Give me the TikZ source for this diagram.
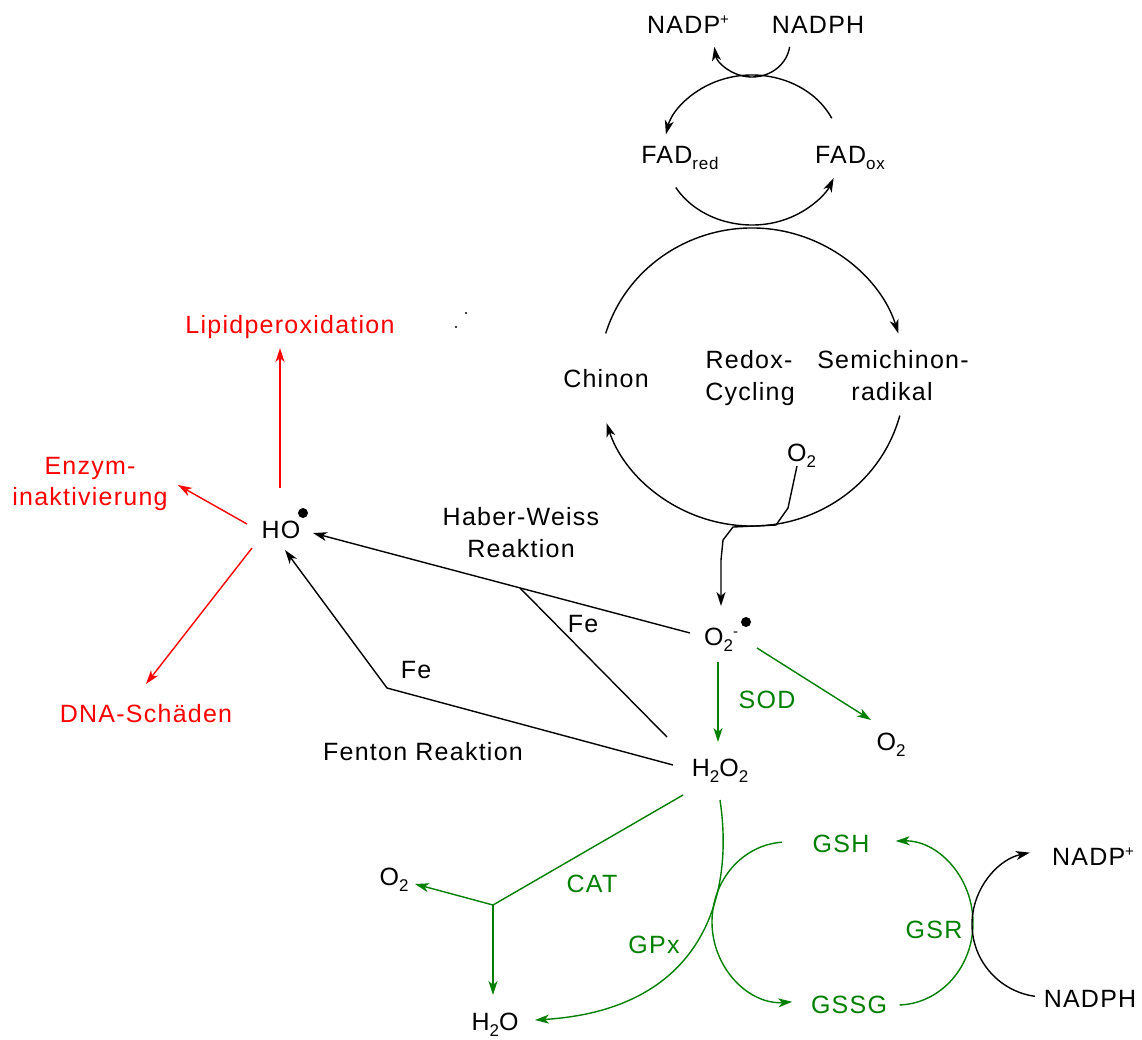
\documentclass[tikz,border=0pt]{standalone}
\usepackage{fontspec}
\setmainfont{Liberation Sans}[LetterSpace=5]
\usetikzlibrary{arrows.meta,calc}
\definecolor{gr}{RGB}{0,128,0}
\definecolor{rd}{RGB}{255,0,0}
\newcommand\mysub[1]{\raisebox{-6pt}{\fontsize{17}{17}\selectfont #1}}
\newcommand\mysup[1]{\raisebox{9pt}{\fontsize{15}{15}\selectfont #1}}
\begin{document}
\begin{tikzpicture}[x=1pt,y=-1pt,
  lbl/.style={anchor=base,inner sep=0pt,font=\fontsize{25}{31}\selectfont},
  lblw/.style={anchor=base west,inner sep=0pt,font=\fontsize{25}{31}\selectfont},
  tip/.style={-{Stealth[length=14pt,width=9pt,inset=4pt]}},
  ln/.style={line width=1.4pt},
  gln/.style={ln,draw=gr},
  rln/.style={ln,draw=rd}]
\useasboundingbox[fill=white] (0,0) rectangle (1142,1039);

% ---------- labels ----------
\node[lbl] (nadpT) at (688,33) {NADP\mysup{+}};
\node[lbl] (nadphT) at (818,33) {NADPH};
\node[lbl] (fadred) at (680,163) {FAD\mysub{red}};
\node[lbl] (fadox) at (850,163) {FAD\mysub{ox}};
\node[lbl] (chinon) at (606,387) {Chinon};
\node[lbl] (redox1) at (749,368) {Redox-};
\node[lbl] (redox2) at (750,400) {Cycling};
\node[lbl] (semi1) at (893,368) {Semichinon-};
\node[lbl] (semi2) at (892,400) {radikal};
\node[lblw] (o2in) at (787,461) {O\mysub{2}};
\node[lbl,text=rd] (lipid) at (290,333) {Lipidperoxidation};
\node[lbl,text=rd] (enz1) at (90,474) {Enzym-};
\node[lbl,text=rd] (enz2) at (90,505) {inaktivierung};
\node[lbl,text=rd] (dna) at (146,722) {DNA-Schäden};
\node[lbl] (ho) at (281,538) {HO};
\node[lbl] (hw1) at (521,525) {Haber-Weiss};
\node[lbl] (hw2) at (521,557) {Reaktion};
\node[lbl] (fe1) at (583,632) {Fe};
\node[lbl] (fe2) at (416,678) {Fe};
\node[lbl] (fenton) at (423,760) {Fenton Reaktion};
\node[lblw] (o2m) at (704,645) {O\mysub{2}\mysup{-}};
\node[lbl,text=gr] (sod) at (767,708) {SOD};
\node[lbl] (o2r) at (891,750) {O\mysub{2}};
\node[lbl] (h2o2) at (720,776) {H\mysub{2}O\mysub{2}};
\node[lbl] (o2l) at (394,885) {O\mysub{2}};
\node[lbl,text=gr] (cat) at (592,892) {CAT};
\node[lbl,text=gr] (gpx) at (654,953) {GPx};
\node[lbl] (h2o) at (495,1030) {H\mysub{2}O};
\node[lbl,text=gr] (gsh) at (841,852) {GSH};
\node[lbl,text=gr] (gssg) at (849,1013) {GSSG};
\node[lbl,text=gr] (gsr) at (934,938) {GSR};
\node[lbl] (nadpB) at (1093,865) {NADP\mysup{+}};
\node[lbl] (nadphB) at (1090,1007) {NADPH};

% radical dots and stray dots
\fill (746,622) circle[radius=5];
\fill (303,513) circle[radius=5];
\fill (466,313) circle[radius=1.2];
\fill (456,327) circle[radius=1.2];

% ---------- coordinates ----------
\coordinate (cSmall) at (752,42);
\coordinate (cFAD) at (752,150);
\coordinate (cBig) at (752,377);
\coordinate (cGl) at (787,922);
\coordinate (cGr) at (897,923);
\coordinate (cN) at (1045,924);

% ---------- black cycles ----------
\draw[ln,tip] (cSmall) ++(8:38 and 35) arc[start angle=8,end angle=172,x radius=38,y radius=35];
\draw[ln,tip] (cFAD) ++(-25:88 and 75) arc[start angle=-25,end angle=-168,x radius=88,y radius=75];
\draw[ln,tip] (cFAD) ++(150:88 and 75) arc[start angle=150,end angle=22,x radius=88,y radius=75];
\draw[ln,tip] (cBig) ++(-163:153 and 149) arc[start angle=-163,end angle=-17,x radius=153,y radius=149];
\draw[ln,tip] (cBig) ++(15:153 and 149) arc[start angle=15,end angle=162,x radius=153,y radius=149];

% O2 -> O2-
\coordinate (o2a) at (797,466);
\coordinate (o2b) at (721,606);
\draw[ln,tip] (o2a) -- (788,508) -- (776,525) -- (733,527) -- (723,540) -- (721,560) -- (o2b);

% ---------- red arrows ----------
\coordinate (hoU) at (280,488);
\coordinate (hoL) at (247,524);
\coordinate (hoD) at (252,548);
\coordinate (lipA) at (280,348);
\coordinate (enzA) at (178,485);
\coordinate (dnaA) at (146,684);
\draw[rln,tip] (hoU) -- (lipA);
\draw[rln,tip] (hoL) -- (enzA);
\draw[rln,tip] (hoD) -- (dnaA);

% ---------- Haber-Weiss / Fenton ----------
\coordinate (hwS) at (690,633);
\coordinate (hwE) at (313,533);
\coordinate (hwJ) at (520,588);
\coordinate (h2o2a) at (667,737);
\coordinate (h2o2b) at (673,765);
\coordinate (fK) at (387,688);
\coordinate (fE) at (285,550);
\draw[ln,tip] (hwS) -- (hwE);
\draw[ln] (h2o2a) -- (hwJ);
\draw[ln,tip] (h2o2b) -- (fK) -- (fE);

% ---------- green ----------
\coordinate (sodS) at (718,662);
\coordinate (sodE) at (718,742);
\coordinate (o2rS) at (757,648);
\coordinate (o2rE) at (871,720);
\draw[gln,tip] (sodS) -- (sodE);
\draw[gln,tip] (o2rS) -- (o2rE);

\coordinate (catS) at (683,795);
\coordinate (catJ) at (493,905);
\coordinate (catO) at (415,884);
\coordinate (catW) at (493,995);
\draw[gln] (catS) -- (catJ);
\draw[gln,tip] (catJ) -- (catO);
\draw[gln,tip] (catJ) -- (catW);

\coordinate (gpxS) at (720,800);
\coordinate (gpxE) at (535,1020);
\draw[gln,tip] (gpxS) .. controls (735,900) and (700,1010) .. (gpxE);

\draw[gln,tip] (cGl) ++(266:75 and 80) arc[start angle=266,end angle=86,x radius=75,y radius=80];
\draw[gln,tip] (cGr) ++(88:76 and 82) arc[start angle=88,end angle=-91,x radius=76,y radius=82];
\draw[ln,tip] (cN) ++(98:73 and 73) arc[start angle=98,end angle=258,x radius=73,y radius=73];
\end{tikzpicture}
\end{document}
